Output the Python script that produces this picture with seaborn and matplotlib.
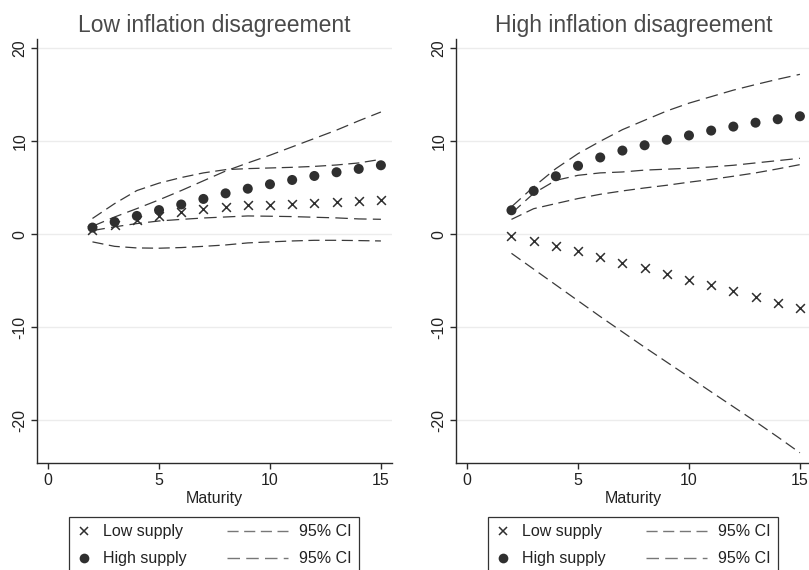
import numpy as np
import pandas as pd
import matplotlib
matplotlib.use("Agg")
import matplotlib.pyplot as plt
import seaborn as sns
from matplotlib.lines import Line2D
from matplotlib.legend_handler import HandlerLine2D

# ---------------- data ----------------
maturity = [2, 3, 4, 5, 6, 7, 8, 9, 10, 11, 12, 13, 14, 15]

# Low inflation disagreement
low_dis_low_supply = [0.43, 0.97, 1.5, 1.94, 2.4, 2.76, 2.94, 3.12, 3.19, 3.3, 3.37, 3.44, 3.58, 3.73]
low_dis_low_ci_up = [1.7, 3.3, 4.7, 5.5, 6.1, 6.6, 6.95, 7.06, 7.13, 7.2, 7.3, 7.45, 7.67, 8.06]
low_dis_low_ci_lo = [-0.82, -1.3, -1.47, -1.5, -1.43, -1.3, -1.15, -0.93, -0.82, -0.72, -0.65, -0.65, -0.68, -0.72]
low_dis_high_supply = [0.72, 1.33, 1.97, 2.6, 3.2, 3.8, 4.4, 4.9, 5.38, 5.84, 6.27, 6.67, 7.03, 7.42]
low_dis_high_ci_up = [0.86, 1.86, 2.76, 3.7, 4.7, 5.75, 6.8, 7.67, 8.5, 9.4, 10.3, 11.2, 12.2, 13.15]
low_dis_high_ci_lo = [0.4, 0.8, 1.15, 1.43, 1.6, 1.75, 1.86, 1.97, 1.94, 1.9, 1.83, 1.76, 1.65, 1.61]

# High inflation disagreement
high_dis_low_supply = [-0.18, -0.68, -1.26, -1.83, -2.4, -3.05, -3.66, -4.27, -4.88, -5.49, -6.1, -6.75, -7.36, -7.97]
high_dis_low_ci_up = [1.6, 2.75, 3.3, 3.84, 4.3, 4.66, 4.98, 5.27, 5.6, 5.9, 6.24, 6.6, 7.03, 7.49]
high_dis_low_ci_lo = [-2.05, -3.75, -5.45, -7.15, -8.85, -10.5, -12.15, -13.75, -15.35, -16.95, -18.55, -20.15, -21.8, -23.5]
high_dis_high_supply = [2.58, 4.66, 6.24, 7.36, 8.26, 9.0, 9.57, 10.16, 10.63, 11.15, 11.58, 12.0, 12.37, 12.69]
high_dis_high_ci_up = [2.95, 5.1, 7.06, 8.67, 10.0, 11.25, 12.26, 13.26, 14.1, 14.8, 15.5, 16.1, 16.67, 17.2]
high_dis_high_ci_lo = [2.25, 4.4, 5.8, 6.34, 6.6, 6.7, 6.9, 7.0, 7.1, 7.24, 7.42, 7.67, 7.92, 8.17]

titles = ["Low inflation disagreement", "High inflation disagreement"]
x_ticks = [0, 5, 10, 15]
y_ticks = [-20, -10, 0, 10, 20]
series_labels = ["Low supply", "High supply", "95% CI", "95% CI"]
x_label = "Maturity"

# ---------------- style ----------------
sns.set_theme(style="ticks")
plt.rcParams["font.family"] = ["Liberation Sans", "DejaVu Sans"]
plt.rcParams["lines.scale_dashes"] = False

MARK = "#2f2f2f"
LINE = "#3a3a3a"
AX = "#2a2a2a"
GRID = "#ececec"
LOW_DASH = (0, (8, 4))
HIGH_DASH = (0, (9, 4.5))

fig = plt.figure(figsize=(8.09, 5.70), dpi=100)
W, H = 809.0, 570.0
ax1 = fig.add_axes([37 / W, 1 - 463 / H, 355 / W, 424 / H])
ax2 = fig.add_axes([456 / W, 1 - 463 / H, 355 / W, 424 / H])

panels = [
    (ax1, low_dis_low_supply, low_dis_low_ci_up, low_dis_low_ci_lo,
     low_dis_high_supply, low_dis_high_ci_up, low_dis_high_ci_lo),
    (ax2, high_dis_low_supply, high_dis_low_ci_up, high_dis_low_ci_lo,
     high_dis_high_supply, high_dis_high_ci_up, high_dis_high_ci_lo),
]


class HandlerWide(HandlerLine2D):
    def __init__(self, factor, **kw):
        super().__init__(**kw)
        self.factor = factor

    def create_artists(self, legend, orig_handle, xdescent, ydescent, width,
                       height, fontsize, trans):
        w2 = width * self.factor
        return super().create_artists(legend, orig_handle, xdescent + (w2 - width),
                                      ydescent, w2, height, fontsize, trans)


legend_left = [69 / W, 488 / W]

for i, (ax, ls, ls_up, ls_lo, hs, hs_up, hs_lo) in enumerate(panels):
    df = pd.DataFrame({
        "maturity": maturity,
        "low": ls, "low_up": ls_up, "low_lo": ls_lo,
        "high": hs, "high_up": hs_up, "high_lo": hs_lo,
    })
    ax.set_axisbelow(True)
    ax.yaxis.grid(True, color=GRID, lw=1.0)
    ax.xaxis.grid(False)

    for col, dash in [("low_up", LOW_DASH), ("low_lo", LOW_DASH),
                      ("high_up", HIGH_DASH), ("high_lo", HIGH_DASH)]:
        sns.lineplot(data=df, x="maturity", y=col, ax=ax, color=LINE,
                     linestyle=dash, lw=0.9, legend=False)

    sns.scatterplot(data=df, x="maturity", y="low", ax=ax, marker="x",
                    s=40, color=MARK, linewidth=1.1, legend=False, zorder=3)
    sns.scatterplot(data=df, x="maturity", y="high", ax=ax, marker="o",
                    s=52, color=MARK, edgecolor="none", legend=False, zorder=3)

    ax.set_xlim(-0.5, 15.5)
    ax.set_ylim(-24.6, 21.0)
    ax.set_xticks(x_ticks)
    ax.set_yticks(y_ticks)
    ax.set_xticklabels([str(t) for t in x_ticks])
    ax.set_yticklabels([str(t) for t in y_ticks])
    ax.set_xlabel(x_label, fontsize=11.5, color="#222222", labelpad=2)
    ax.set_ylabel("")
    ax.set_title(titles[i], fontsize=16.5, color="#4a4a4a", pad=5)

    for s in ["top", "right"]:
        ax.spines[s].set_visible(False)
    for s in ["left", "bottom"]:
        ax.spines[s].set_color(AX)
        ax.spines[s].set_linewidth(1.0)
    ax.tick_params(axis="both", direction="out", length=4, width=1.0,
                   color=AX, labelsize=11.5, labelcolor="#222222", pad=3)
    ax.tick_params(axis="y", labelrotation=90)
    plt.setp(ax.get_yticklabels(), va="center")

    h_low = Line2D([], [], marker="x", ls="none", color=MARK, ms=6, mew=1.1)
    h_high = Line2D([], [], marker="o", ls="none", color=MARK, ms=7, mec="none")
    h_ci1 = Line2D([], [], color="#777777", lw=1.0, linestyle=LOW_DASH)
    h_ci2 = Line2D([], [], color="#777777", lw=1.0, linestyle=HIGH_DASH)
    leg = fig.legend([h_low, h_high, h_ci1, h_ci2], series_labels, ncol=2,
                     loc="upper left", bbox_to_anchor=(legend_left[i], 53 / H),
                     fontsize=11.5, handlelength=1.0, handletextpad=0.7,
                     columnspacing=5.3, borderpad=0.45, labelspacing=0.75,
                     frameon=True, fancybox=False, framealpha=1,
                     edgecolor="#333333", borderaxespad=0,
                     handler_map={h_ci1: HandlerWide(3.8), h_ci2: HandlerWide(3.8)})
    leg.get_frame().set_linewidth(0.9)
    for t in leg.get_texts():
        t.set_color("#222222")

fig.savefig("out.png", dpi=100)
